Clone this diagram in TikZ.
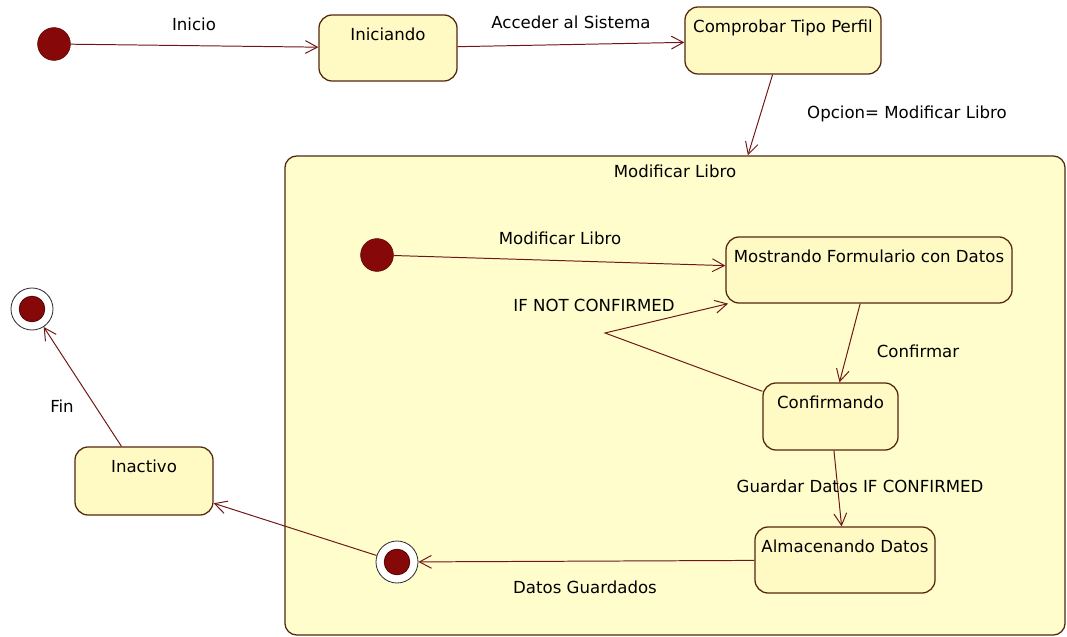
\documentclass[tikz,border=0pt]{standalone}
\usepackage{fontspec}
\setmainfont{DejaVu Sans}
\usetikzlibrary{arrows.meta}
\definecolor{umlfill}{RGB}{255,250,196}
\definecolor{umlbox}{RGB}{255,253,204}
\definecolor{umlline}{RGB}{84,38,12}
\definecolor{umltrans}{RGB}{112,22,22}
\definecolor{umldot}{RGB}{135,8,8}
\tikzset{
  stbox/.style={draw=umlline, fill=umlfill, line width=0.9pt, rounded corners=0.33cm, inner sep=0pt},
  stname/.style={anchor=base, yshift=-0.66cm, inner sep=0pt, font=\fontsize{11.8}{14}\selectfont},
  compbox/.style={draw=umlline, fill=umlbox, line width=0.9pt, rounded corners=0.3cm, inner sep=0pt},
  compname/.style={anchor=base, yshift=-0.56cm, inner sep=0pt, font=\fontsize{11.8}{14}\selectfont},
  startdot/.style={circle, draw=umldot!70!black, fill=umldot, minimum size=0.82cm, inner sep=0pt},
  enddot/.style={circle, draw=black!80, fill=white, line width=0.6pt, minimum size=1.05cm, inner sep=0pt,
    path picture={\fill[umldot, draw=umldot!60!black] (path picture bounding box.center) circle (0.32cm);}},
  trans/.style={draw=umltrans, line width=0.7pt, -{Straight Barb[length=0.3cm, width=0.32cm]}},
  translabel/.style={anchor=base, inner sep=0pt, font=\fontsize{11.8}{14}\selectfont},
}

\begin{document}
\begin{tikzpicture}[x=0.025cm, y=-0.025cm]
\useasboundingbox (0,0) rectangle (1067,637);
% composite state
\node[compbox, minimum width=19.5cm, minimum height=11.975cm,
  label={[compname]north:Modificar Libro}] (modlibro) at (675,395.5) {};
% top row
\node[startdot] (ini1) at (54,44) {};
\node[stbox, minimum width=3.45cm, minimum height=1.65cm,
  label={[stname]north:Iniciando}] (iniciando) at (388,48) {};
\node[stbox, minimum width=4.9cm, minimum height=1.675cm,
  label={[stname]north:Comprobar Tipo Perfil}] (comprobar) at (783,40.5) {};
% inside Modificar Libro
\node[startdot] (ini2) at (377,255) {};
\node[stbox, minimum width=7.15cm, minimum height=1.65cm,
  label={[stname]north:Mostrando Formulario con Datos}] (mostrando) at (869,270) {};
\node[stbox, minimum width=3.375cm, minimum height=1.675cm,
  label={[stname]north:Confirmando}] (confirmando) at (830.5,416.5) {};
\node[stbox, minimum width=4.5cm, minimum height=1.65cm,
  label={[stname]north:Almacenando Datos}] (almacenando) at (845,560) {};
\node[enddot] (fin2) at (397,562) {};
% left side
\node[stbox, minimum width=3.45cm, minimum height=1.7cm,
  label={[stname]north:Inactivo}] (inactivo) at (144,481) {};
\node[enddot] (fin1) at (32,309) {};
\coordinate (notconf) at (605,333);
% transitions
\draw[trans] (ini1) -- (iniciando);
\draw[trans] (iniciando) -- (comprobar);
\draw[trans] (comprobar) -- (modlibro);
\draw[trans] (ini2) -- (mostrando);
\draw[trans] (mostrando) -- (confirmando);
\draw[trans] (confirmando) -- (notconf) -- (mostrando);
\draw[trans] (confirmando) -- (almacenando);
\draw[trans] (almacenando) -- (fin2);
\draw[trans] (fin2) -- (inactivo);
\draw[trans] (inactivo) -- (fin1);
% labels
\node[translabel] (l-inicio) at (194,31) {Inicio};
\node[translabel] (l-acceder) at (571,29) {Acceder al Sistema};
\node[translabel] (l-opcion) at (907,119) {Opcion= Modificar Libro};
\node[translabel] (l-modificar) at (560,244) {Modificar Libro};
\node[translabel] (l-notconf) at (594,311) {IF NOT CONFIRMED};
\node[translabel] (l-confirmar) at (918,357) {Confirmar};
\node[translabel] (l-guardar) at (860,492) {Guardar Datos IF CONFIRMED};
\node[translabel] (l-guardados) at (585,593) {Datos Guardados};
\node[translabel] (l-fin) at (62,412) {Fin};
\end{tikzpicture}
\end{document}
